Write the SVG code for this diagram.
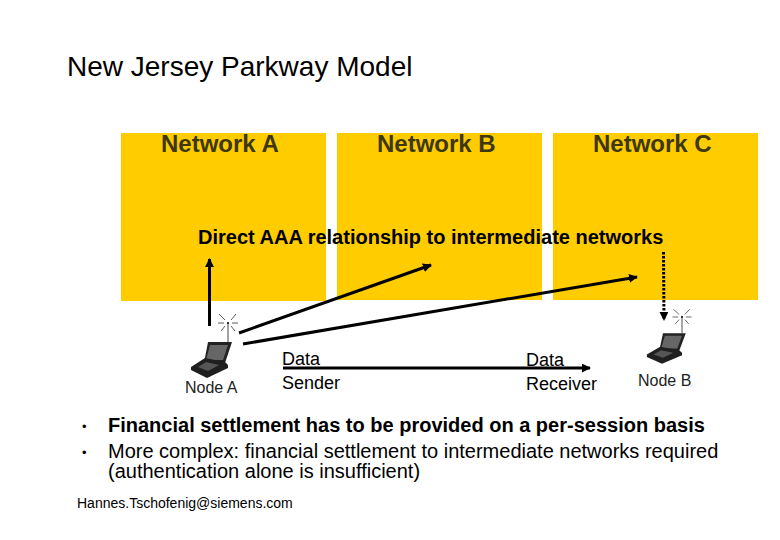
<svg xmlns="http://www.w3.org/2000/svg" xmlns:xlink="http://www.w3.org/1999/xlink" width="780" height="540" viewBox="0 0 780 540">
<style>
text{font-family:"Liberation Sans",Arial,sans-serif;fill:#000}
.net{font-size:24px;font-weight:bold;fill:#3d3712}
.box{fill:#ffcc00}
.conn{stroke:#000;stroke-width:3;fill:none}
.lbl{font-size:18px}
.node{font-size:16px;fill:#222}
.body{font-size:20px}
.spark{stroke:#333;stroke-width:.8;fill:none}
</style>
<defs>
<marker id="arr" viewBox="0 0 10 10" refX="9" refY="5" markerWidth="3" markerHeight="3" orient="auto"><path d="M0 0L10 5L0 10z" fill="#000"/></marker>
<g id="laptop">
<path d="M0 0V19" stroke="#666" stroke-width="1.2"/>
<path class="spark" d="M-9 -9L-3 -3M8 -9L3 -3M-10 0H-4M10 0H4M-7 8L-3 3M7 8L3 3"/>
<circle cx="0" cy="0" r="1.100" fill="#111"/>
<path d="M-20 19H4L-3 40H-24z" fill="#222"/>
<path d="M-18 22H0L-5 37H-22z" fill="#666"/>
<path d="M-37 44L-23 35L-3 39L0 42V45L-21 55L-37 47z" fill="#1f1f1f"/>
<path d="M-30 44L-22 39L-9 42L-20 48z" fill="#555"/>
</g>
</defs>
<text x="67" y="76" font-size="28" id="title">New Jersey Parkway Model</text>
<g id="network-a"><rect class="box" x="121" y="133" width="205" height="168"/><text class="net" x="161" y="152">Network A</text></g>
<g id="network-b"><rect class="box" x="337" y="133" width="205" height="167"/><text class="net" x="377" y="152">Network B</text></g>
<g id="network-c"><rect class="box" x="553" y="133" width="205" height="167"/><text class="net" x="593" y="152">Network C</text></g>
<text x="198" y="244" font-size="20" font-weight="bold" id="aaa-label">Direct AAA relationship to intermediate networks</text>
<g id="connectors">
<line class="conn" x1="209.500" y1="326" x2="209.500" y2="259" marker-end="url(#arr)"/>
<line class="conn" x1="239" y1="333" x2="431" y2="265" marker-end="url(#arr)"/>
<line class="conn" x1="243" y1="344" x2="637" y2="277" marker-end="url(#arr)"/>
<line class="conn" x1="663.500" y1="252" x2="664" y2="320" stroke-dasharray="2.500 1.500" marker-end="url(#arr)"/>
<line class="conn" x1="283" y1="368" x2="590" y2="368" marker-end="url(#arr)"/>
</g>
<g id="node-a"><use xlink:href="#laptop" href="#laptop" transform="translate(228,323)"/><text class="node" x="185" y="393">Node A</text></g>
<g id="node-b"><use xlink:href="#laptop" href="#laptop" transform="translate(682,317) scale(.95,.85)"/><text class="node" x="638" y="386">Node B</text></g>
<g id="data-sender"><text class="lbl" x="282" y="365">Data</text><text class="lbl" x="282" y="389">Sender</text></g>
<g id="data-receiver"><text class="lbl" x="526" y="366">Data</text><text class="lbl" x="526" y="390">Receiver</text></g>
<g id="bullets">
<text x="82" y="431" font-size="13">•</text>
<text x="82" y="457" font-size="13">•</text>
<text class="body" x="108" y="432" font-weight="bold">Financial settlement has to be provided on a per-session basis</text>
<text class="body" x="108" y="458">More complex: financial settlement to intermediate networks required</text>
<text class="body" x="108" y="478">(authentication alone is insufficient)</text>
</g>
<text x="77" y="508" font-size="14" id="footer">Hannes.Tschofenig@siemens.com</text>
</svg>
